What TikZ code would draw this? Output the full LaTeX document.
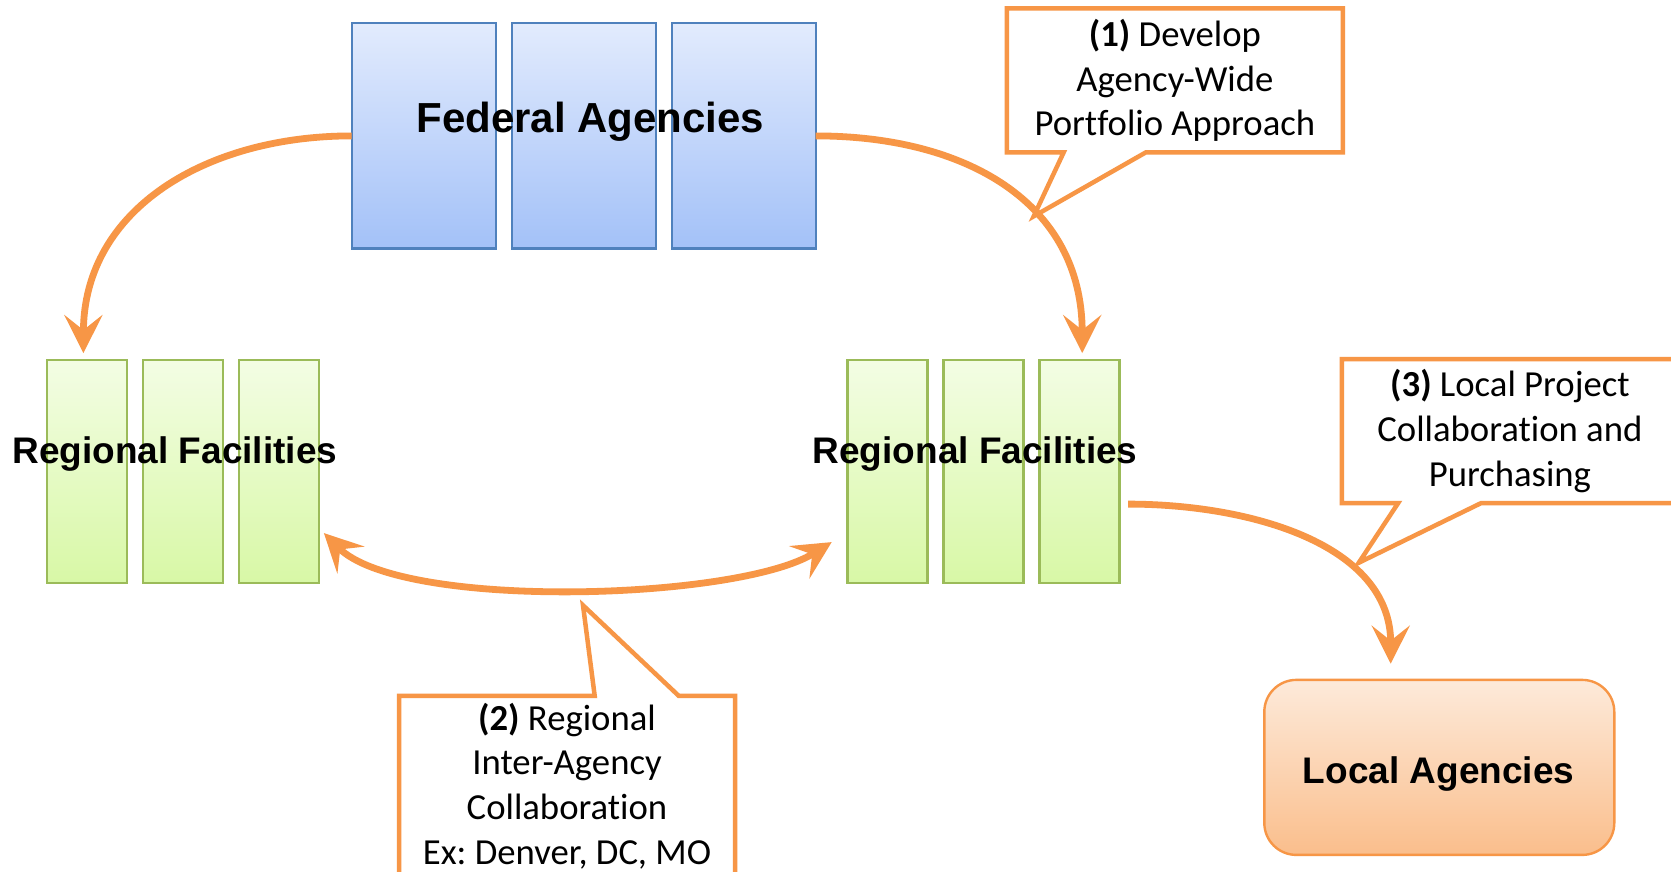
\documentclass[tikz,border=0pt]{standalone}
\usepackage{fontspec}
\setmainfont{Carlito}[Ligatures=NoCommon]
\newfontfamily\headfont{Liberation Sans}
\usetikzlibrary{arrows.meta,positioning}
\frenchspacing

\definecolor{accent}{RGB}{247,150,70}
\definecolor{fedline}{RGB}{79,129,189}
\definecolor{fedtop}{RGB}{226,235,253}
\definecolor{fedbot}{RGB}{163,193,248}
\definecolor{regline}{RGB}{155,187,89}
\definecolor{regtop}{RGB}{243,253,228}
\definecolor{regbot}{RGB}{216,248,166}
\definecolor{loctop}{RGB}{253,234,218}
\definecolor{locbot}{RGB}{250,190,140}

\begin{document}
\begin{tikzpicture}[x=1pt, y=1pt,
  fedbox/.style={draw=fedline, line width=2.2pt, top color=fedtop, bottom color=fedbot,
    minimum width=144pt, minimum height=225pt, inner sep=0pt, outer sep=0pt},
  regbox/.style={draw=regline, line width=2.6pt, top color=regtop, bottom color=regbot,
    minimum width=80pt, minimum height=223pt, inner sep=0pt, outer sep=0pt},
  heading/.style={font=\headfont\bfseries\fontsize{37}{44}\selectfont, inner sep=0pt, anchor=base},
  note/.style={font=\fontsize{36.7}{44.7}\selectfont, align=center, minimum width=336pt,
    minimum height=144pt, inner sep=0pt, outer sep=0pt},
  bubble/.style={draw=accent, line width=4.5pt, line join=miter},
  >={Stealth[length=38pt, width=38pt, inset=15pt]},
  flow/.style={draw=accent, line width=6.8pt, ->},
  node distance=16pt
]
\useasboundingbox[fill=white] (0,0) rectangle (1671,-872);

% federal row
\node[fedbox] (fed1) at (423.7,-135.9) {};
\node[fedbox, right=of fed1] (fed2) {};
\node[fedbox, right=of fed2] (fed3) {};
\node[heading, font=\headfont\bfseries\fontsize{42}{50}\selectfont] (fedtext) at (590.4,-133) {Federal Agencies};

% regional rows
\node[regbox] (rl1) at (86.9,-471.6) {};
\node[regbox, right=of rl1] (rl2) {};
\node[regbox, right=of rl2] (rl3) {};
\node[heading] (rltext) at (174.8,-463) {Regional Facilities};

\node[regbox] (rr1) at (887.2,-471.6) {};
\node[regbox, right=of rr1] (rr2) {};
\node[regbox, right=of rr2] (rr3) {};
\node[heading] (rrtext) at (975.1,-463) {Regional Facilities};

% local box
\node[draw=accent, line width=2.4pt, rounded corners=32pt, top color=loctop, bottom color=locbot,
  minimum width=350pt, minimum height=175pt] (local) at (1439.3,-767.4) {};
\node[heading] (loctext) at (1438.7,-783) {Local Agencies};

% arrows
\draw[flow] (fed1.west) to[out=180, in=90, looseness=1.07] ([xshift=-3.5pt, yshift=7pt]rl1.north);
\draw[flow] (fed3.east) to[out=0, in=90, looseness=1.12] ([xshift=3pt, yshift=7pt]rr3.north);
\draw[flow, <->] ([xshift=5pt, yshift=50pt]rl3.south east)
  .. controls +(-45:110) and +(212:110) .. ([xshift=-15.5pt, yshift=41pt]rr1.south west);
\draw[flow] ([xshift=9pt, yshift=79pt]rr3.south east) to[out=0, in=90, looseness=1.0]
  ([xshift=-48.6pt, yshift=15pt]local.north);

% callouts
\node[note] (note1) at (1174.9,-80.5) {\textbf{(1)} Develop\\Agency-Wide\\Portfolio Approach};
\coordinate (tip1) at (1033.7,-216.3);
\draw[bubble] (note1.south west) -- ([xshift=56.7pt]note1.south west) -- (tip1)
  -- ([xshift=138.7pt]note1.south west) -- (note1.south east) -- (note1.north east)
  -- (note1.north west) -- cycle;

\node[note, minimum height=180pt] (note2) at (567,-785.9) {\textbf{(2)} Regional\\Inter-Agency\\Collaboration\\Ex: Denver, DC, MO};
\coordinate (tip2) at (583,-605.3);
\draw[bubble] (note2.north west) -- ([xshift=195.7pt]note2.north west) -- (tip2)
  -- ([xshift=279.8pt]note2.north west) -- (note2.north east) -- (note2.south east)
  -- (note2.south west) -- cycle;

\node[note] (note3) at (1509.9,-431) {\textbf{(3)} Local Project\\Collaboration and\\Purchasing};
\coordinate (tip3) at (1358.8,-562.7);
\draw[bubble] (note3.south west) -- ([xshift=56.3pt]note3.south west) -- (tip3)
  -- ([xshift=139.4pt]note3.south west) -- (note3.south east) -- (note3.north east)
  -- (note3.north west) -- cycle;

\end{tikzpicture}
\end{document}
